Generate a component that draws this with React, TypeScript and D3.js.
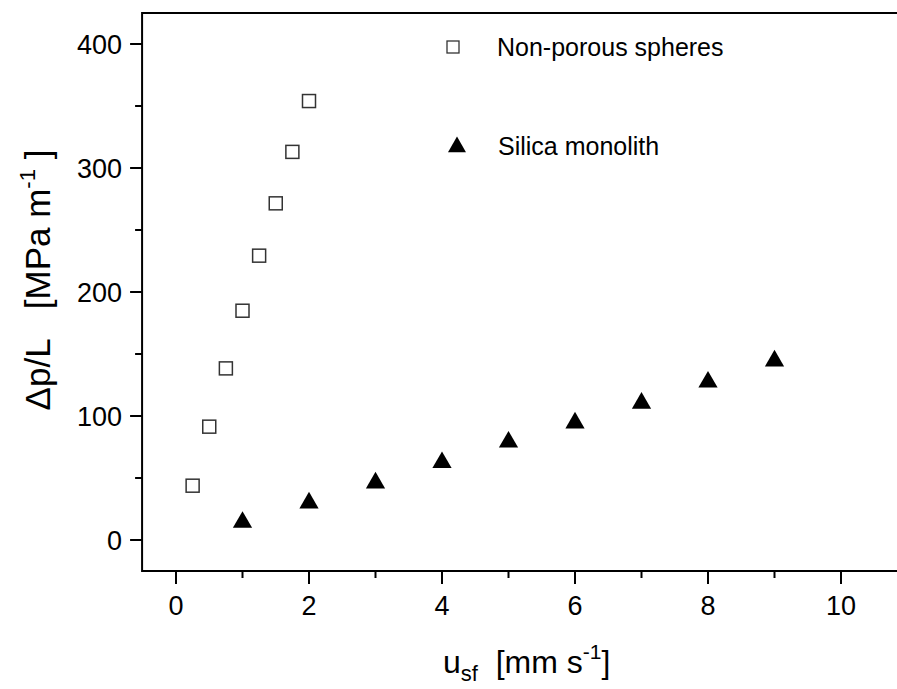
import React from "react";
import * as d3 from "d3";

const spheresX = [0.25, 0.5, 0.75, 1.0, 1.25, 1.5, 1.75, 2.0];
const spheresY = [43.8, 91.4, 138.4, 184.9, 229.3, 271.5, 313, 354];
const monolithX = [1, 2, 3, 4, 5, 6, 7, 8, 9];
const monolithY = [15.9, 31.5, 47.7, 64.1, 80.6, 96, 112, 129, 146];
const xMajorTicks = [0, 2, 4, 6, 8, 10];
const xMinorTicks = [1, 3, 5, 7, 9];
const yMajorTicks = [0, 100, 200, 300, 400];
const yMinorTicks = [50, 150, 250, 350];
const legendLabels = ["Non-porous spheres", "Silica monolith"];

const W = 897;
const H = 689;
const FONT = "'Liberation Sans', Arial, sans-serif";

export default function App() {
  const x = d3.scaleLinear().domain([0, 10]).range([176, 841]);
  const y = d3.scaleLinear().domain([0, 400]).range([540, 44]);
  const left = x(-0.51);
  const right = x(11.5);
  const top = y(425);
  const bottom = y(-25);

  const sq = 13;
  const tri = d3.symbol().type(d3.symbolTriangle).size(160);
  const triLegend = d3.symbol().type(d3.symbolTriangle).size(140);

  return (
    <svg
      width={W}
      height={H}
      style={{ position: "absolute", left: 0, top: 0, background: "#fff" }}
      fontFamily={FONT}
    >
      <rect x={0} y={0} width={W} height={H} fill="#fff" />
      {/* frame */}
      <rect
        x={left}
        y={top}
        width={right - left}
        height={bottom - top}
        fill="none"
        stroke="#000"
        strokeWidth={2}
      />
      {/* x ticks */}
      {xMajorTicks.map((t) => (
        <g key={"xm" + t}>
          <line x1={x(t)} x2={x(t)} y1={bottom} y2={bottom + 13} stroke="#000" strokeWidth={2} />
          <text x={x(t)} y={bottom + 44} textAnchor="middle" fontSize={27}>
            {t}
          </text>
        </g>
      ))}
      {xMinorTicks.map((t) => (
        <line key={"xn" + t} x1={x(t)} x2={x(t)} y1={bottom} y2={bottom + 7} stroke="#000" strokeWidth={2} />
      ))}
      {/* y ticks */}
      {yMajorTicks.map((t) => (
        <g key={"ym" + t}>
          <line x1={left - 12} x2={left} y1={y(t)} y2={y(t)} stroke="#000" strokeWidth={2} />
          <text x={left - 20} y={y(t) + 9.6} textAnchor="end" fontSize={27}>
            {t}
          </text>
        </g>
      ))}
      {yMinorTicks.map((t) => (
        <line key={"yn" + t} x1={left - 7} x2={left} y1={y(t)} y2={y(t)} stroke="#000" strokeWidth={2} />
      ))}
      {/* data: squares */}
      {spheresX.map((v, i) => (
        <rect
          key={"s" + i}
          x={x(v) - sq / 2}
          y={y(spheresY[i]) - sq / 2}
          width={sq}
          height={sq}
          fill="#fff"
          stroke="#333"
          strokeWidth={1.5}
        />
      ))}
      {/* data: triangles */}
      {monolithX.map((v, i) => (
        <path
          key={"t" + i}
          d={tri() as string}
          transform={`translate(${x(v)},${y(monolithY[i]) + 2})`}
          fill="#000"
        />
      ))}
      {/* legend */}
      <rect x={453 - 6} y={47 - 6} width={12} height={12} fill="#fff" stroke="#333" strokeWidth={1.3} />
      <text x={497} y={56} fontSize={25}>
        {legendLabels[0]}
      </text>
      <path d={triLegend() as string} transform="translate(457,147)" fill="#000" />
      <text x={498} y={155} fontSize={25}>
        {legendLabels[1]}
      </text>
      {/* x axis title */}
      <text x={443} y={673} fontSize={32}>
        u
        <tspan fontSize={22} dy={8}>sf</tspan>
        <tspan dy={-8}>{"\u00a0\u00a0[mm s"}</tspan>
        <tspan fontSize={21} dy={-14}>-1</tspan>
        <tspan dy={14}>]</tspan>
      </text>
      {/* y axis title */}
      <text transform="translate(50,280) rotate(-90)" textAnchor="middle" fontSize={35}>
        {"\u0394p/L\u00a0\u00a0\u00a0[MPa m"}
        <tspan fontSize={22} dy={-15}>-1</tspan>
        <tspan dy={15}>{"\u00a0]"}</tspan>
      </text>
    </svg>
  );
}
